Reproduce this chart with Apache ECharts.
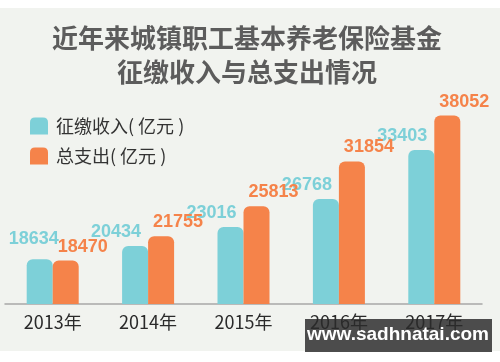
<!DOCTYPE html>
<html>
<head>
<meta charset="utf-8">
<script src="https://cdn.jsdelivr.net/npm/echarts@6/dist/echarts.min.js"></script>
<style>
html,body{margin:0;padding:0;background:#ffffff;}
#c{width:500px;height:362px;}
</style>
</head>
<body>
<div id="c"></div>
<script>
var titleLines = ['近年来城镇职工基本养老保险基金', '征缴收入与总支出情况'];
var categories = ['2013年', '2014年', '2015年', '2016年', '2017年'];
var seriesNames = ['征缴收入( 亿元 )', '总支出( 亿元 )'];
var incomeValues = [18634, 20434, 23016, 26768, 33403];
var spendingValues = [18470, 21755, 25813, 31854, 38052];
var watermarkText = 'www.sadhnatai.com';

var CYAN = '#7dd0d8';
var ORANGE = '#f5834a';
var chart = echarts.init(document.getElementById('c'), null, {renderer: 'canvas'});

var incomeData = incomeValues.map(function (v, i) {
  if (i === 0) return {value: v, label: {offset: [-6, -6]}};
  return v;
});

var fontCJK = '"Noto Sans CJK SC", "Liberation Sans", sans-serif';
var fontNum = '"Liberation Sans", Arial, sans-serif';

var option = {
  backgroundColor: '#ffffff',
  animation: false,
  graphic: [
    {type: 'rect', z: -10, silent: true, shape: {x: 0, y: 8, width: 500, height: 343}, style: {fill: '#f1f3ef'}},
    {type: 'group', z: 100, children: [
      {type: 'rect', shape: {x: 305, y: 319, width: 187, height: 33}, style: {fill: 'rgba(62,62,62,0.92)'}},
      {type: 'text', x: 398, y: 335, style: {text: watermarkText, fill: '#ffffff', font: 'bold 19px ' + fontNum, textAlign: 'center', textVerticalAlign: 'middle'}}
    ]}
  ],
  title: {
    text: titleLines.join('\n'),
    left: 247,
    top: 21,
    padding: 0,
    textAlign: 'center',
    textStyle: {fontSize: 26, fontWeight: 'bold', color: '#5c5c5c', lineHeight: 34, fontFamily: fontCJK, align: 'center'}
  },
  legend: {
    orient: 'vertical',
    left: 25,
    top: 112,
    itemWidth: 18,
    itemHeight: 17,
    itemGap: 12,
    icon: 'path://M0,5 Q0,0 5,0 L13,0 Q18,0 18,5 L18,17 L0,17 Z',
    textStyle: {fontSize: 18, color: '#333333', fontFamily: fontCJK, padding: [0, 0, 0, 3]},
    data: seriesNames
  },
  grid: {left: 5, right: 18, top: 40, bottom: 58, containLabel: false},
  xAxis: {
    type: 'category',
    data: categories,
    axisLine: {lineStyle: {color: '#a8a8a8', width: 1.5}},
    axisTick: {show: false},
    axisLabel: {fontSize: 18, color: '#2a2a2a', margin: 9, fontFamily: fontCJK}
  },
  yAxis: {
    type: 'value',
    min: 12600,
    max: 48260,
    show: false,
    splitLine: {show: false}
  },
  series: [
    {
      name: seriesNames[0],
      type: 'bar',
      data: incomeData,
      barWidth: 26,
      barGap: '0%',
      itemStyle: {color: CYAN, borderRadius: [6, 6, 0, 0]},
      label: {show: true, position: 'top', offset: [-19, 0], color: CYAN, fontSize: 18, fontWeight: 'bold', fontFamily: fontNum}
    },
    {
      name: seriesNames[1],
      type: 'bar',
      data: spendingValues,
      barWidth: 26,
      barGap: '0%',
      itemStyle: {color: ORANGE, borderRadius: [6, 6, 0, 0]},
      label: {show: true, position: 'top', offset: [17, 0], color: ORANGE, fontSize: 18, fontWeight: 'bold', fontFamily: fontNum}
    }
  ]
};
chart.setOption(option);
</script>
</body>
</html>
